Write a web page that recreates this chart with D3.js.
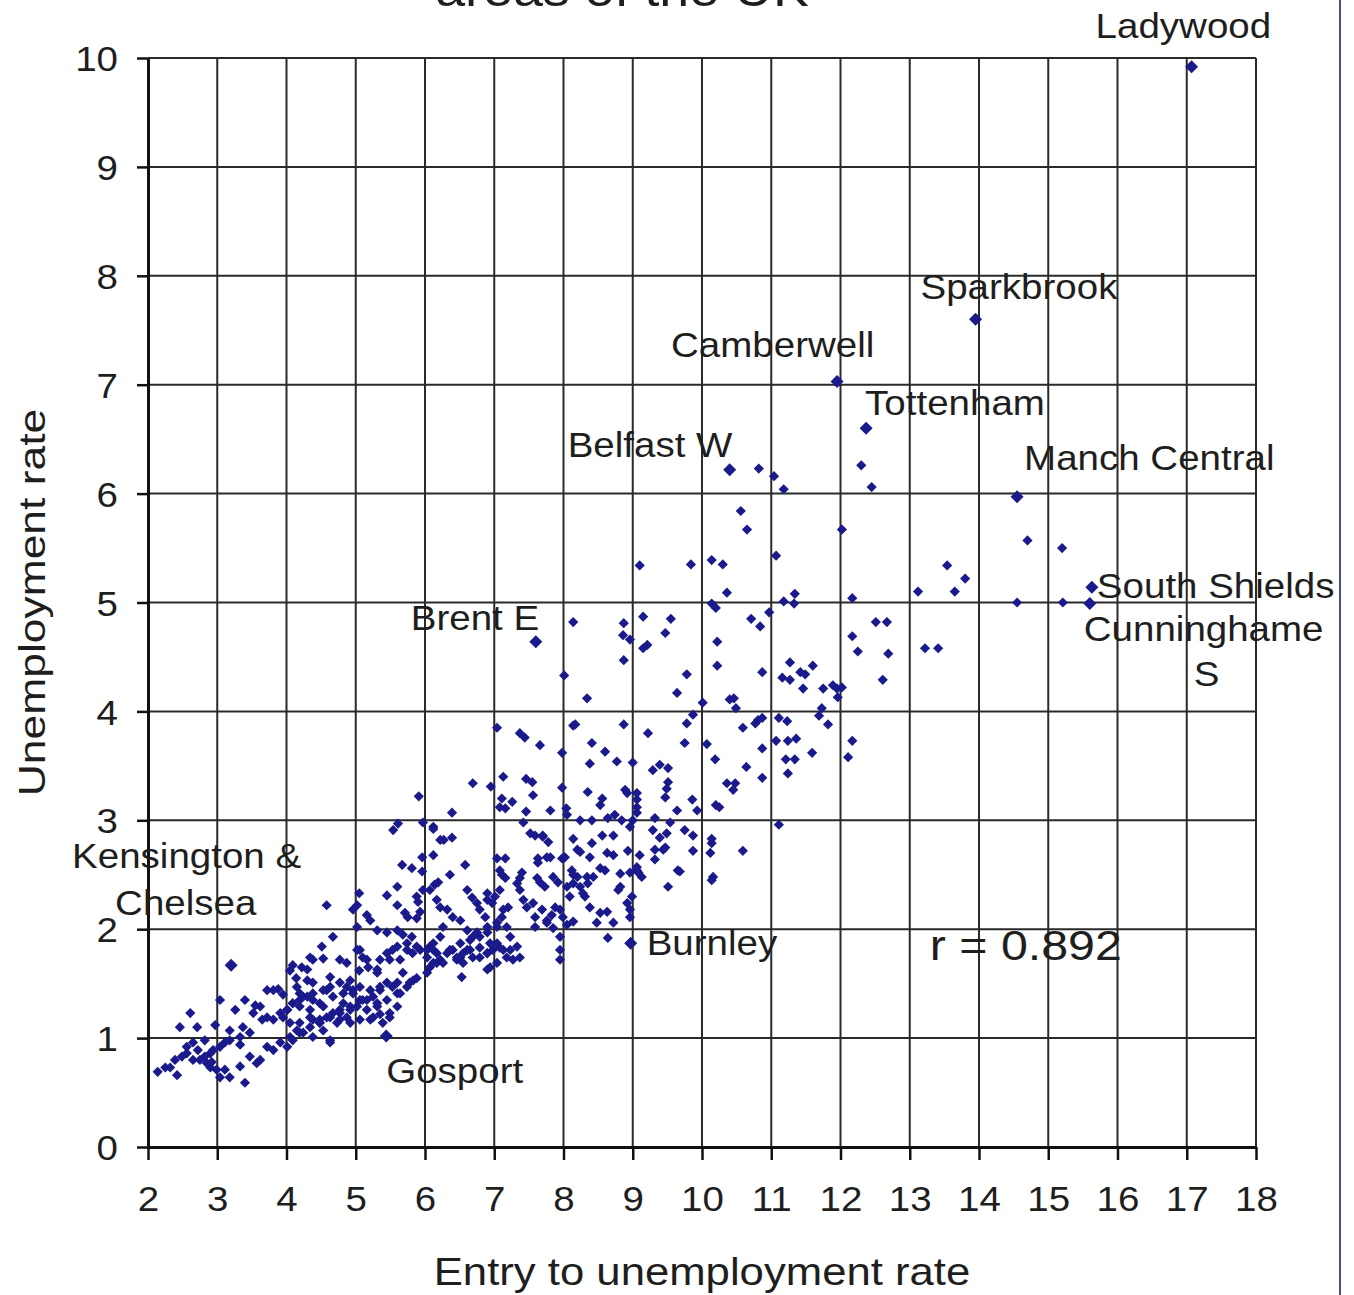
<!DOCTYPE html>
<html>
<head>
  <meta charset="utf-8">
  <title>Entry to unemployment vs unemployment rate</title>
  <script src="https://cdn.jsdelivr.net/npm/d3@7"></script>
  <style>
    body { margin: 0; background: #fff; }
    text { font-family: "Liberation Sans", Arial, sans-serif; fill: #1e1e1e; }
  </style>
</head>
<body>
<div id="chart"></div>
<script>

// axis ticks
var xTicks = [2, 3, 4, 5, 6, 7, 8, 9, 10, 11, 12, 13, 14, 15, 16, 17, 18];
var yTicks = [0, 1, 2, 3, 4, 5, 6, 7, 8, 9, 10];

// named constituencies
var labelNames = ["Ladywood", "Sparkbrook", "Camberwell", "Tottenham", "Belfast W", "Manch Central",
                  "South Shields", "Cunninghame S", "Brent E", "Burnley", "Gosport", "Kensington & Chelsea"];
var labelX = [17.07, 13.95, 11.95, 12.37, 10.40, 14.55, 15.63, 15.60, 7.60, 8.97, 5.44, 3.20];
var labelY = [9.92, 7.60, 7.03, 6.60, 6.22, 5.97, 5.14, 4.99, 4.64, 1.87, 1.02, 1.67];

// the rest of the constituencies: [entry rate, unemployment rate]
var lowPoints = [
  [3.04,1.35],[2.61,1.23],[2.71,1.10],[2.97,1.12],[3.37,1.10],[3.52,1.23],[3.62,1.29],[3.72,1.44],[3.81,1.44],
  [3.47,1.05],[3.33,1.01],[3.18,0.98],[3.11,0.96],[3.04,0.92],[2.94,0.89],[2.90,0.86],[2.82,0.83],[2.75,0.80],
  [2.65,0.80],[2.56,0.86],[2.49,0.83],[2.39,0.80],[2.32,0.73],[2.25,0.73],[2.14,0.69],[2.65,0.96],[2.56,0.92],
  [2.42,0.66],[3.04,0.64],[2.99,0.71],[2.90,0.73],[2.85,0.77],[3.18,0.64],[3.40,0.59],[3.62,0.80],[3.57,0.77],
  [3.47,0.83],[3.72,0.92],[3.81,0.89],[3.91,0.96],[4.01,0.92],[4.09,0.98],[4.15,1.07],[4.24,1.05],[4.34,1.10],
  [4.38,1.17],[4.48,1.14],[4.58,1.19],[4.67,1.23],[4.77,1.26],[4.63,0.96],[3.72,1.19],[3.81,1.17],[3.91,1.23],
  [4.01,1.26],[4.09,1.32],[4.19,1.35],[4.30,1.38],[4.38,1.41],[4.73,1.14],[4.87,1.19],[5.02,1.29],[5.16,1.35],
  [5.25,1.38],[5.35,1.44],[5.45,1.51],[5.53,1.47],[5.64,1.41],[5.25,1.19],[5.21,1.17],
  [2.46,1.10],[3.26,1.26],[3.40,1.35],[3.55,1.30],[3.65,1.17],[3.18,1.07],[3.33,0.94],[2.82,0.98],[2.72,0.89],
  [2.92,0.78],[3.11,0.71],[3.33,0.74],[3.95,1.40],[3.88,1.45],[4.05,1.62],[4.14,1.55],
  [4.15,1.47],[4.24,1.38],[4.48,1.32],[4.34,1.26],[4.58,1.44],[4.82,1.41],[4.96,1.44],[5.06,1.35],[4.92,1.29],
  [4.77,1.23],[4.48,1.17],[5.16,1.26],[5.31,1.29],[5.60,1.41],[5.74,1.47],[5.83,1.53],[5.49,1.23],[5.39,1.14]
];

var midPoints = [
  [5.67,2.59],[5.81,2.56],[5.96,2.53],[5.60,2.39],[5.45,2.31],[5.05,2.33],[4.58,2.22],[4.96,2.18],[5.16,2.13],
  [5.21,2.08],[5.60,2.22],[5.88,2.30],[5.90,2.25],[5.93,2.16],[5.88,2.10],[5.02,2.02],[5.31,1.99],[5.45,1.97],
  [5.60,1.99],[5.68,1.95],[5.81,1.93],[4.67,1.93],[4.51,1.84],[4.34,1.74],[4.38,1.72],[4.22,1.65],[4.09,1.67],
  [4.77,1.72],[4.87,1.69],[5.02,1.81],[5.10,1.74],[5.05,1.62],[5.18,1.65],[5.31,1.60],[5.35,1.72],[5.45,1.78],
  [5.53,1.81],[5.64,1.72],[5.74,1.81],[5.82,1.78],[5.93,1.81],[6.03,1.74],[6.12,1.81],[6.17,1.69],[6.07,1.65],
  [6.22,1.72],[6.32,1.78],[6.40,1.81],[6.51,1.74],[6.61,1.81],[6.69,1.74],[6.79,1.83],[6.90,1.78],[6.98,1.81],
  [7.08,1.83],[7.23,1.81],[7.27,1.72],[7.37,1.74],[5.68,1.60],[5.88,1.55],[6.03,1.60],[5.78,1.51],[5.60,1.51],
  [5.35,1.47],[5.21,1.44],[5.06,1.47],[4.96,1.41],[4.87,1.47],[4.77,1.51],[4.63,1.47],[4.53,1.44],[4.38,1.51],
  [4.30,1.53],[6.53,1.56],[6.90,1.63],[4.19,1.41],[4.09,1.32],[4.01,1.26],[4.19,1.29],[4.38,1.35],[4.53,1.29],
  [4.67,1.38],[4.82,1.32],[4.92,1.26],[5.10,1.35],[5.31,1.32],[5.45,1.35],[5.60,1.29],[5.49,1.19],[5.35,1.22],
  [5.06,1.17],[4.92,1.14],[4.77,1.17],[4.63,1.19],[4.48,1.14],[4.34,1.19],[4.19,1.14],[4.05,1.14],[3.95,1.19],
  [4.53,1.07],[4.63,0.98],[4.38,1.01],[4.19,1.05],[4.05,1.01],[5.02,2.22],
  [5.71,2.15],[5.75,2.11],[6.26,2.02],[4.53,1.73],[4.30,1.63],[4.63,1.56],[4.92,1.53],[5.06,1.81],[5.16,1.72],
  [5.31,1.63],[5.49,1.72],[5.60,1.84],[5.74,1.87],[5.88,1.84],[6.07,1.84],[6.17,1.78],[6.46,1.72],[6.55,1.78],
  [6.65,1.90],[6.75,1.97],[6.90,2.02],[7.04,2.02],[7.33,1.84],[6.94,1.65],
  [6.69,3.34],[6.95,3.31],[7.13,3.40],[7.46,3.38],[7.55,3.35],[7.56,3.23],[7.11,3.20],[7.26,3.17],[7.08,3.12],
  [7.16,3.11],[7.46,3.08],[6.39,3.07],[5.91,3.22],[6.12,2.94],[6.22,2.82],[6.39,2.84],[6.12,2.68],[6.58,2.59],
  [6.36,2.50],[6.14,2.41],[6.19,2.43],[5.96,2.66],[7.42,2.98],[7.52,2.88],[7.59,2.86],[7.70,2.86],[7.78,2.80],
  [7.63,2.65],[7.63,2.61],[7.76,2.66],[7.04,2.65],[7.16,2.65],[7.40,2.52],[7.37,2.47],[7.08,2.54],[7.11,2.50],
  [7.16,2.47],[7.62,2.47],[7.66,2.43],[7.73,2.39],[7.85,2.48],[7.92,2.43],[8.12,2.54],[8.20,2.48],[8.14,2.42],
  [8.24,2.39],[8.31,2.30],[8.28,2.33],[8.05,2.39],[8.09,2.30],[8.38,2.20],[8.53,2.15],[8.63,2.16],[8.48,2.06],
  [8.82,2.39],[8.79,2.36],[8.43,2.48],[8.35,2.42],[8.96,2.18],[8.96,2.11],[8.72,2.06],[7.59,2.02],[7.76,2.06],
  [7.85,2.01],[7.95,1.93],[7.95,1.81],[7.95,1.72],[8.05,2.04],[8.14,2.07],[8.64,1.92],[8.99,2.30],[8.92,2.24],
  [9.08,2.52],[9.06,2.57],[9.32,2.64],[9.44,2.73],[9.65,2.54],[9.51,2.39],[9.10,2.68],[9.13,2.48],
  [6.90,2.33],[6.90,2.27],[6.97,2.24],[7.01,2.30],[7.08,2.36],[7.13,2.18],[7.20,2.20],[7.11,2.11],[7.04,2.06],
  [7.18,2.02],[7.23,1.93],[7.33,2.42],[7.37,2.36],[7.42,2.27],[7.47,2.20],[7.56,2.24],[7.59,2.11],[7.69,2.18],
  [7.76,2.08],[7.83,2.13],[7.88,2.20],[7.95,2.18],[7.99,2.11],[5.97,2.36],[6.07,2.36],[6.17,2.27],[6.22,2.20],
  [6.32,2.18],[6.40,2.11],[6.51,2.08],[6.61,2.36],[6.68,2.29],[6.75,2.24],[6.79,2.18],[6.87,2.11],[6.61,1.99],
  [6.69,1.93],[6.79,1.93],[6.90,1.97],[6.94,1.87],[6.65,1.81],[6.51,1.87],[6.22,1.93],[6.12,1.87],[6.03,1.81],
  [6.36,1.81],[6.46,1.74],[6.12,1.69],[6.26,1.69],[6.55,1.69],[6.79,1.74],[6.90,1.78],[7.04,1.87],[7.13,1.81],
  [7.18,1.74],[7.04,1.69],[5.54,2.91],[5.61,2.97],[5.97,2.98],[6.12,2.92],[6.27,2.82],
  [7.04,3.85],[7.37,3.80],[7.44,3.76],[7.66,3.69],[8.17,3.88]
];

var highPoints = [
  [8.14,4.82],[8.87,4.81],[8.86,4.70],[8.96,4.66],[8.87,4.47],[9.15,4.87],[9.21,4.61],[9.15,4.58],[9.55,4.85],
  [9.47,4.72],[8.01,4.33],[8.34,4.12],[9.64,4.17],[9.10,5.34],[8.14,3.87],[8.87,3.88],[9.22,3.80],[8.41,3.71],
  [8.60,3.63],[7.98,3.62],[8.38,3.52],[8.77,3.54],[9.00,3.53],[9.29,3.46],[9.39,3.51],[9.51,3.48],[9.51,3.35],
  [9.49,3.29],[9.47,3.21],[8.89,3.28],[8.92,3.25],[9.06,3.25],[9.06,3.19],[9.06,3.12],[9.06,3.07],[9.00,3.00],
  [8.96,2.94],[8.35,3.26],[8.56,3.20],[8.53,3.14],[7.98,3.30],[7.81,3.09],[8.04,3.11],[8.05,3.05],[8.24,3.00],
  [8.41,3.00],[8.64,3.02],[8.74,3.05],[8.84,3.00],[9.32,3.02],[9.54,2.98],[9.64,3.09],[7.70,2.85],[8.14,2.83],
  [8.56,2.86],[8.72,2.86],[8.41,2.79],[9.29,2.91],[9.49,2.88],[9.39,2.84],[10.14,2.79],[7.81,2.66],[7.98,2.65],
  [8.02,2.66],[8.20,2.73],[8.24,2.71],[8.38,2.66],[8.63,2.70],[8.72,2.68],[8.93,2.72],[9.32,2.73],[9.47,2.75],
  [9.87,2.72],[10.12,2.70],[10.59,2.72],[8.53,2.56],[8.60,2.54],[8.82,2.51],[8.96,2.52],[9.06,2.54],[8.14,2.50],
  [8.34,2.48],[9.68,2.53],[10.16,2.48],
  [10.82,6.23],[11.04,6.16],[11.18,6.04],[12.30,6.26],[12.45,6.06],[10.56,5.84],[10.65,5.67],[12.02,5.67],
  [9.84,5.35],[10.14,5.39],[10.30,5.35],[11.07,5.43],[10.36,5.09],[11.18,5.01],[11.34,5.08],[11.33,4.99],
  [12.17,5.04],[13.12,5.10],[13.54,5.34],[10.14,4.99],[10.20,4.95],[10.97,4.91],[10.71,4.85],[10.84,4.78],
  [12.51,4.82],[12.67,4.82],[10.22,4.64],[12.17,4.69],[12.25,4.55],[12.69,4.53],[13.22,4.58],[13.41,4.58],
  [10.22,4.42],[9.78,4.34],[10.87,4.36],[11.27,4.45],[11.60,4.42],[11.16,4.31],[11.27,4.29],[11.42,4.36],
  [11.49,4.34],[11.46,4.21],[11.75,4.21],[11.89,4.24],[11.95,4.21],[11.96,4.13],[12.61,4.29],[12.02,4.22],
  [11.73,4.03],[11.69,3.96],[11.82,3.88],[10.01,4.08],[10.40,4.11],[10.46,4.12],[10.49,4.03],[9.87,3.97],
  [9.78,3.89],[10.81,3.92],[10.87,3.94],[10.77,3.89],[11.11,3.94],[11.23,3.91],[10.59,3.85],[9.75,3.71],
  [10.07,3.70],[11.07,3.73],[11.24,3.73],[11.36,3.75],[12.17,3.73],[10.87,3.66],[10.19,3.56],[11.59,3.62],
  [12.11,3.58],[11.21,3.56],[11.34,3.56],[10.64,3.49],[11.24,3.43],[10.87,3.39],[10.36,3.34],[10.48,3.34],
  [10.45,3.28],[9.86,3.19],[9.93,3.09],[10.20,3.14],[10.25,3.12],[11.11,2.96],[9.75,2.91],[9.87,2.86],
  [10.14,2.83],[10.14,2.45],
  [14.70,5.57],[15.20,5.50],[13.80,5.22],[13.65,5.10],[14.55,5.00],[15.21,5.00]
];

var allPoints = lowPoints.concat(midPoints, highPoints);

// layout
var W = 1354, H = 1295;
var margin = {top: 58, right: 98, bottom: 148, left: 148},
    width = W - margin.left - margin.right,
    height = H - margin.top - margin.bottom;

var svg = d3.select("#chart")
  .append("svg")
    .attr("width", W)
    .attr("height", H);

var g = svg.append("g")
    .attr("transform", "translate(" + margin.left + "," + margin.top + ")");

var x = d3.scaleLinear().domain([2, 18]).range([0, width]);
var y = d3.scaleLinear().domain([0, 10]).range([height, 0]);

// old charts draw text a bit wide, so stretch every text a little
function stretch(sel, k) {
  sel.each(function() {
    var len = this.getComputedTextLength();
    d3.select(this).attr("textLength", len * k).attr("lengthAdjust", "spacingAndGlyphs");
  });
}

// grid
g.append("g")
  .selectAll("line.vx")
  .data(xTicks)
  .enter().append("line")
    .attr("x1", function(d) { return x(d); })
    .attr("x2", function(d) { return x(d); })
    .attr("y1", 0)
    .attr("y2", height)
    .attr("stroke", "#2a2a2a")
    .attr("stroke-width", 2);

g.append("g")
  .selectAll("line.hy")
  .data(yTicks)
  .enter().append("line")
    .attr("x1", 0)
    .attr("x2", width)
    .attr("y1", function(d) { return y(d); })
    .attr("y2", function(d) { return y(d); })
    .attr("stroke", "#2a2a2a")
    .attr("stroke-width", 2);

// axes
var xAxis = g.append("g")
    .attr("transform", "translate(0," + height + ")")
    .call(d3.axisBottom(x).tickValues(xTicks).tickSize(13).tickSizeOuter(0).tickPadding(26));
var yAxis = g.append("g")
    .call(d3.axisLeft(y).tickValues(yTicks).tickSize(11).tickSizeOuter(0).tickPadding(19));

[xAxis, yAxis].forEach(function(a) {
  a.select(".domain").attr("stroke", "#111").attr("stroke-width", 3);
  a.selectAll(".tick line").attr("stroke", "#111").attr("stroke-width", 2.5);
  a.selectAll(".tick text")
    .style("font-family", "Liberation Sans, Arial, sans-serif")
    .style("font-size", "35px")
    .attr("fill", "#1e1e1e");
});
xAxis.selectAll(".tick text").attr("dy", "0.71em");
yAxis.selectAll(".tick text").attr("dy", "0.36em");
stretch(xAxis.selectAll(".tick text"), 1.1);
stretch(yAxis.selectAll(".tick text"), 1.1);

// points
var diamond = function(r) { return "M0," + (-r) + "L" + r + ",0L0," + r + "L" + (-r) + ",0Z"; };
var navy = "#1a1a8c";

g.append("g")
  .selectAll("path")
  .data(allPoints)
  .enter().append("path")
    .attr("d", diamond(5.1))
    .attr("transform", function(d) { return "translate(" + x(d[0]) + "," + y(d[1]) + ")"; })
    .attr("fill", navy);

var named = labelNames.map(function(n, i) { return {name: n, x: labelX[i], y: labelY[i]}; });

g.append("g")
  .selectAll("path")
  .data(named)
  .enter().append("path")
    .attr("d", diamond(6.5))
    .attr("transform", function(d) { return "translate(" + x(d.x) + "," + y(d.y) + ")"; })
    .attr("fill", navy);

// text offsets of the point labels, in pixels from the point
var labelOffsets = {
  "Ladywood": [[-96, -29, "Ladywood"]],
  "Sparkbrook": [[-55, -20, "Sparkbrook"]],
  "Camberwell": [[-166, -24, "Camberwell"]],
  "Tottenham": [[-1, -13, "Tottenham"]],
  "Belfast W": [[-162, -13, "Belfast W"]],
  "Manch Central": [[7, -27, "Manch Central"]],
  "South Shields": [[5, 11, "South Shields"]],
  "Cunninghame S": [[-6, 37, "Cunninghame"], [104, 82, "S"]],
  "Brent E": [[-125, -12, "Brent E"]],
  "Burnley": [[16, 12, "Burnley"]],
  "Gosport": [[0, 47, "Gosport"]],
  "Kensington & Chelsea": [[-159, -97, "Kensington &"], [-116, -50, "Chelsea"]]
};

named.forEach(function(d) {
  labelOffsets[d.name].forEach(function(o) {
    var t = g.append("text")
      .attr("x", x(d.x) + o[0])
      .attr("y", y(d.y) + o[1])
      .style("font-size", "35px")
      .text(o[2]);
    stretch(t, 1.1);
  });
});

// correlation note
var r = g.append("text")
  .attr("x", x(13.29))
  .attr("y", y(1.72))
  .style("font-size", "42px")
  .text("r = 0.892");
stretch(r, 1.15);

// axis titles
var xt = svg.append("text")
  .attr("x", margin.left + x(10))
  .attr("y", 1285)
  .attr("text-anchor", "middle")
  .style("font-size", "39px")
  .text("Entry to unemployment rate");
stretch(xt, 1.12);

var yt = svg.append("text")
  .attr("transform", "translate(45," + (margin.top + y(5.0)) + ") rotate(-90)")
  .attr("text-anchor", "middle")
  .style("font-size", "37px")
  .text("Unemployment rate");
stretch(yt, 1.2);

// title, mostly cut off at the top of the picture
var tt = svg.append("text")
  .attr("x", 622)
  .attr("y", 6)
  .attr("text-anchor", "middle")
  .style("font-size", "48px")
  .text("areas of the UK");
stretch(tt, 1.12);

// frame line on the right
svg.append("line")
  .attr("x1", 1340).attr("x2", 1340)
  .attr("y1", 0).attr("y2", H)
  .attr("stroke", "#4a4a96")
  .attr("stroke-width", 2);

</script>
</body>
</html>
